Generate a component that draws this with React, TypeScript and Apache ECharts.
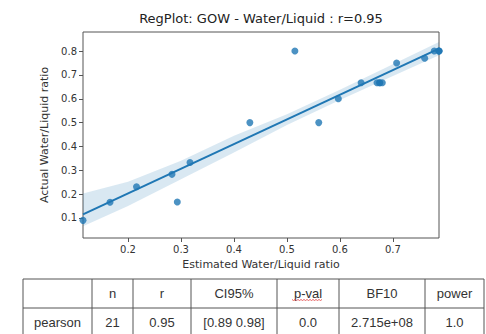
import React, { useEffect, useRef } from "react";
import * as echarts from "echarts";

// Scatter data (estimated vs actual water/liquid ratio)
const estX = [0.115, 0.166, 0.216, 0.283, 0.293, 0.317, 0.43, 0.515, 0.56, 0.597, 0.64, 0.67, 0.675, 0.675, 0.68, 0.707, 0.76, 0.778, 0.787, 0.787, 0.787];
const actY = [0.09, 0.166, 0.231, 0.283, 0.167, 0.333, 0.5, 0.8, 0.5, 0.6, 0.667, 0.667, 0.667, 0.667, 0.667, 0.75, 0.77, 0.8, 0.8, 0.8, 0.8];

// Regression line
const lineX = [0.115, 0.787];
const lineY = [0.115, 0.81];

// Confidence band
const bandX = [0.115, 0.2, 0.3, 0.4, 0.5, 0.6, 0.7, 0.787];
const bandUpper = [0.203, 0.252, 0.34, 0.445, 0.535, 0.638, 0.745, 0.838];
const bandLower = [0.065, 0.15, 0.262, 0.375, 0.49, 0.595, 0.695, 0.783];

// Axis ticks
const xTicks = [0.2, 0.3, 0.4, 0.5, 0.6, 0.7];
const yTicks = [0.1, 0.2, 0.3, 0.4, 0.5, 0.6, 0.7, 0.8];

// Stats table
const tableHeader = ["", "n", "r", "CI95%", "p-val", "BF10", "power"];
const tableRow = ["pearson", "21", "0.95", "[0.89 0.98]", "0.0", "2.715e+08", "1.0"];

const TITLE = "RegPlot: GOW - Water/Liquid : r=0.95";

export default function App() {
  const ref = useRef<HTMLDivElement>(null);
  useEffect(() => {
    if (!ref.current) return;
    const chart = echarts.init(ref.current, undefined, { renderer: "svg" });
    const colX = [23, 92, 133, 191, 277, 339, 425, 484];
    const rowY = [279, 308, 340];
    const tableGraphics: any[] = [];
    const lineColor = "#555";
    rowY.forEach((y) => {
      tableGraphics.push({ type: "line", shape: { x1: colX[0], y1: y, x2: colX[colX.length - 1], y2: y }, style: { stroke: lineColor, lineWidth: 1 } });
    });
    colX.forEach((x) => {
      tableGraphics.push({ type: "line", shape: { x1: x, y1: rowY[0], x2: x, y2: rowY[2] }, style: { stroke: lineColor, lineWidth: 1 } });
    });
    const cellText = (t: string, i: number, y: number) => ({
      type: "text",
      x: (colX[i] + colX[i + 1]) / 2,
      y,
      style: { text: t, fill: "#333", font: "13px 'Liberation Sans'", textAlign: "center", textVerticalAlign: "middle" },
    });
    tableHeader.forEach((t, i) => tableGraphics.push(cellText(t, i, 293.5)));
    tableRow.forEach((t, i) => tableGraphics.push(cellText(t, i, 322)));
    // spell-check squiggle under p-val
    const sq: number[][] = [];
    for (let x = 292; x <= 323; x += 1.5) sq.push([x, 299.5 + ((Math.round((x - 292) / 1.5)) % 2 === 0 ? 0 : 1)]);
    tableGraphics.push({ type: "polyline", shape: { points: sq }, style: { stroke: "#e04040", lineWidth: 0.8, fill: null } });

    chart.setOption({
      animation: false,
      backgroundColor: "#fff",
      grid: { left: 83, top: 32, width: 356, height: 206, show: true, borderColor: "#555", borderWidth: 1, backgroundColor: "transparent" },
      xAxis: {
        type: "value",
        min: 0.115,
        max: 0.787,
        name: "Estimated Water/Liquid ratio",
        nameLocation: "middle",
        nameGap: 20,
        nameTextStyle: { color: "#333", fontSize: 11, fontFamily: "DejaVu Sans" },
        axisLine: { show: false },
        axisTick: { show: true, length: 4, lineStyle: { color: "#555" }, customValues: xTicks },
        axisLabel: { color: "#333", fontSize: 10, fontFamily: "DejaVu Sans", margin: 6, customValues: xTicks, formatter: (v: number) => v.toFixed(1) },
        splitLine: { show: false },
      },
      yAxis: {
        type: "value",
        min: 0.016,
        max: 0.88,
        name: "Actual Water/Liquid ratio",
        nameLocation: "middle",
        nameGap: 30,
        nameRotate: 90,
        nameTextStyle: { color: "#333", fontSize: 11, fontFamily: "DejaVu Sans" },
        axisLine: { show: false },
        axisTick: { show: true, length: 4, lineStyle: { color: "#555" }, customValues: yTicks },
        axisLabel: { color: "#333", fontSize: 10, fontFamily: "DejaVu Sans", margin: 6, customValues: yTicks, formatter: (v: number) => v.toFixed(1) },
        splitLine: { show: false },
      },
      series: [
        {
          type: "custom",
          clip: true,
          silent: true,
          data: [[0.5, 0.5]],
          renderItem: (_p: any, api: any) => {
            const pts: number[][] = [];
            for (let i = 0; i < bandX.length; i++) pts.push(api.coord([bandX[i], bandUpper[i]]));
            for (let i = bandX.length - 1; i >= 0; i--) pts.push(api.coord([bandX[i], bandLower[i]]));
            return { type: "polygon", shape: { points: pts }, style: { fill: "rgba(31,119,180,0.17)" } };
          },
          z: 1,
        },
        {
          type: "scatter",
          data: estX.map((x, i) => [x, actY[i]]),
          symbolSize: 7,
          itemStyle: { color: "#1f77b4", opacity: 0.8 },
          z: 2,
        },
        {
          type: "line",
          data: lineX.map((x, i) => [x, lineY[i]]),
          symbol: "none",
          lineStyle: { color: "#1f77b4", width: 2 },
          z: 3,
        },
      ],
      graphic: [
        {
          type: "text",
          x: 261,
          y: 18,
          style: { text: TITLE, fill: "#222", font: "13px 'DejaVu Sans'", textAlign: "center", textVerticalAlign: "middle" },
        },
        ...tableGraphics,
      ],
    });
    return () => chart.dispose();
  }, []);
  return <div ref={ref} style={{ position: "fixed", left: 0, top: 0, width: 486, height: 334 }} />;
}
